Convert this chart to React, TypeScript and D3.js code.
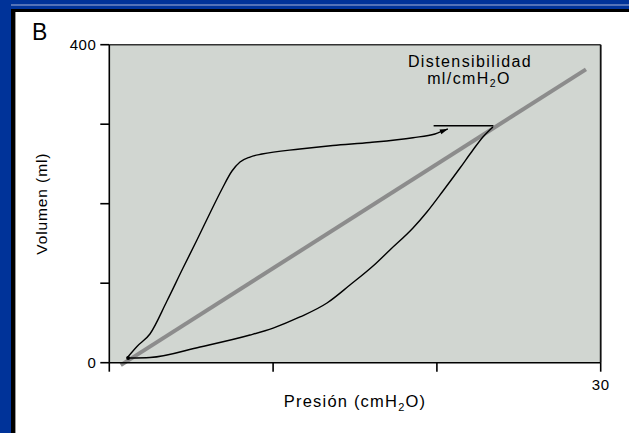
import React from "react";
import * as d3 from "d3";

// Data (pressure cmH2O, volume ml)
const upperPressure = [1.08, 1.69, 2.48, 3.52, 4.5, 5.35, 6.15, 6.88, 7.49, 7.98, 8.59, 9.32, 11.64, 13.65, 15.91, 18.54, 19.88, 20.67];
const upperVolume = [5.9, 20.4, 36.1, 77.6, 119.1, 154.3, 188.3, 218.5, 241.1, 252.4, 258.7, 262.5, 268.8, 273.2, 277, 283, 287.7, 294];
const lowerPressure = [1.26, 2.48, 5.54, 8.59, 10.0, 11.64, 13.29, 14.69, 16.1, 17.13, 18.54, 19.39, 20.37, 21.41, 22.2, 22.81, 23.42];
const lowerVolume = [5.9, 6.5, 19.8, 34.8, 43.6, 57.5, 75.1, 97.7, 121.6, 141.8, 169.4, 189.6, 216, 244.9, 267.6, 284, 296.6];
const topPressure = [19.8, 23.45];
const topVolume = [298, 298];
const compliancePressure = [0.7, 29.1];
const complianceVolume = [-3, 369];
const xTicks = [0, 10, 20, 30];
const yTicks = [0, 100, 200, 300, 400];
const xTickLabels = ["", "", "", "30"];
const yTickLabels = ["0", "", "", "", "400"];

const FONT = "'Liberation Sans', Arial, sans-serif";

export default function App() {
  const W = 629, H = 433;
  const left = 109.3, right = 600.7, top = 44.7, bottom = 362.7;
  const x = d3.scaleLinear().domain([0, 30]).range([left, right]);
  const y = d3.scaleLinear().domain([0, 400]).range([bottom, top]);
  const pts = (px: number[], py: number[]) => px.map((p, i) => [p, py[i]] as [number, number]);
  const curve = d3.line<[number, number]>().x(d => x(d[0])).y(d => y(d[1])).curve(d3.curveMonotoneX);
  const straight = d3.line<[number, number]>().x(d => x(d[0])).y(d => y(d[1]));

  // small arrow head at the end of the upper branch
  const n = upperPressure.length;
  const ex = x(upperPressure[n - 1]), ey = y(upperVolume[n - 1]);
  const px0 = x(upperPressure[n - 2]), py0 = y(upperVolume[n - 2]);
  const ang = Math.atan2(ey - py0, ex - px0);
  const L = 8, Wd = 2.6;
  const bx = ex - L * Math.cos(ang), by = ey - L * Math.sin(ang);
  const head = `M${ex},${ey} L${bx + Wd * Math.sin(ang)},${by - Wd * Math.cos(ang)} L${bx - Wd * Math.sin(ang)},${by + Wd * Math.cos(ang)} Z`;

  return (
    <svg width={W} height={H} style={{ position: "fixed", left: 0, top: 0, display: "block", background: "#fff" }}>
      <rect x={0} y={0} width={W} height={H} fill="#fff" />
      <rect x={0} y={0} width={W} height={9} fill="#003399" />
      <rect x={0} y={0} width={11} height={H} fill="#003399" />
      <line x1={11} x2={W} y1={5} y2={5} stroke="#a8b4d8" strokeWidth={1.2} />
      <rect x={11} y={9} width={W - 11} height={3} fill="#000" />
      <rect x={11} y={9} width={4} height={H - 9} fill="#000" />
      <line x1={15.5} x2={15.5} y1={12} y2={H} stroke="#999" strokeWidth={1} />

      {/* plot area */}
      <rect x={left} y={top} width={right - left} height={bottom - top} fill="#d1d6d1" />
      <line x1={left} x2={right} y1={top} y2={top} stroke="#333" strokeWidth={1.5} />
      <line x1={right} x2={right} y1={top} y2={bottom} stroke="#111" strokeWidth={1.8} />

      {/* compliance line */}
      <path d={straight(pts(compliancePressure, complianceVolume)) || ""} fill="none" stroke="#8c8c8c" strokeWidth={4} />

      {/* loop */}
      <path d={curve(pts(upperPressure, upperVolume)) || ""} fill="none" stroke="#000" strokeWidth={1.4} />
      <path d={head} fill="#000" />
      <path d={curve(pts(lowerPressure, lowerVolume)) || ""} fill="none" stroke="#000" strokeWidth={1.4} />
      <path d={straight(pts(topPressure, topVolume)) || ""} fill="none" stroke="#000" strokeWidth={1.6} />
      <circle cx={x(1.15)} cy={y(6)} r={2} fill="#000" />

      {/* axes */}
      <line x1={left} x2={right} y1={bottom} y2={bottom} stroke="#000" strokeWidth={1.6} />
      <line x1={left} x2={left} y1={top} y2={bottom} stroke="#000" strokeWidth={1.6} />
      {xTicks.map((t, i) => (
        <g key={"x" + t}>
          <line x1={x(t)} x2={x(t)} y1={bottom} y2={bottom + 9} stroke="#000" strokeWidth={1.6} />
          {xTickLabels[i] && (
            <text x={x(t)} y={390} textAnchor="middle" fontFamily={FONT} fontSize={15} letterSpacing={0.5} fill="#000">
              {xTickLabels[i]}
            </text>
          )}
        </g>
      ))}
      {yTicks.map((t, i) => (
        <g key={"y" + t}>
          <line x1={left - 9} x2={left} y1={y(t)} y2={y(t)} stroke="#000" strokeWidth={1.6} />
          {yTickLabels[i] && (
            <text x={left - 13} y={y(t) + 5} textAnchor="end" fontFamily={FONT} fontSize={15} letterSpacing={0.5} fill="#000">
              {yTickLabels[i]}
            </text>
          )}
        </g>
      ))}

      {/* labels */}
      <text x={32} y={40} fontFamily={FONT} fontSize={23} fill="#000">B</text>
      <text x={(left + right) / 2} y={407} textAnchor="middle" fontFamily={FONT} fontSize={16.5} letterSpacing={1.2} fill="#000">
        Presión (cmH<tspan fontSize={11} dy={4}>2</tspan><tspan dy={-4}>O)</tspan>
      </text>
      <text transform={`translate(47,${(top + bottom) / 2}) rotate(-90)`} textAnchor="middle" fontFamily={FONT} fontSize={15.5} letterSpacing={0.9} fill="#000">
        Volumen (ml)
      </text>
      <text x={470} y={67} textAnchor="middle" fontFamily={FONT} fontSize={16} letterSpacing={1.4} fill="#000">Distensibilidad</text>
      <text x={469} y={84} textAnchor="middle" fontFamily={FONT} fontSize={16} letterSpacing={1.4} fill="#000">
        ml/cmH<tspan fontSize={10.5} dy={3}>2</tspan><tspan dy={-3}>O</tspan>
      </text>
    </svg>
  );
}
